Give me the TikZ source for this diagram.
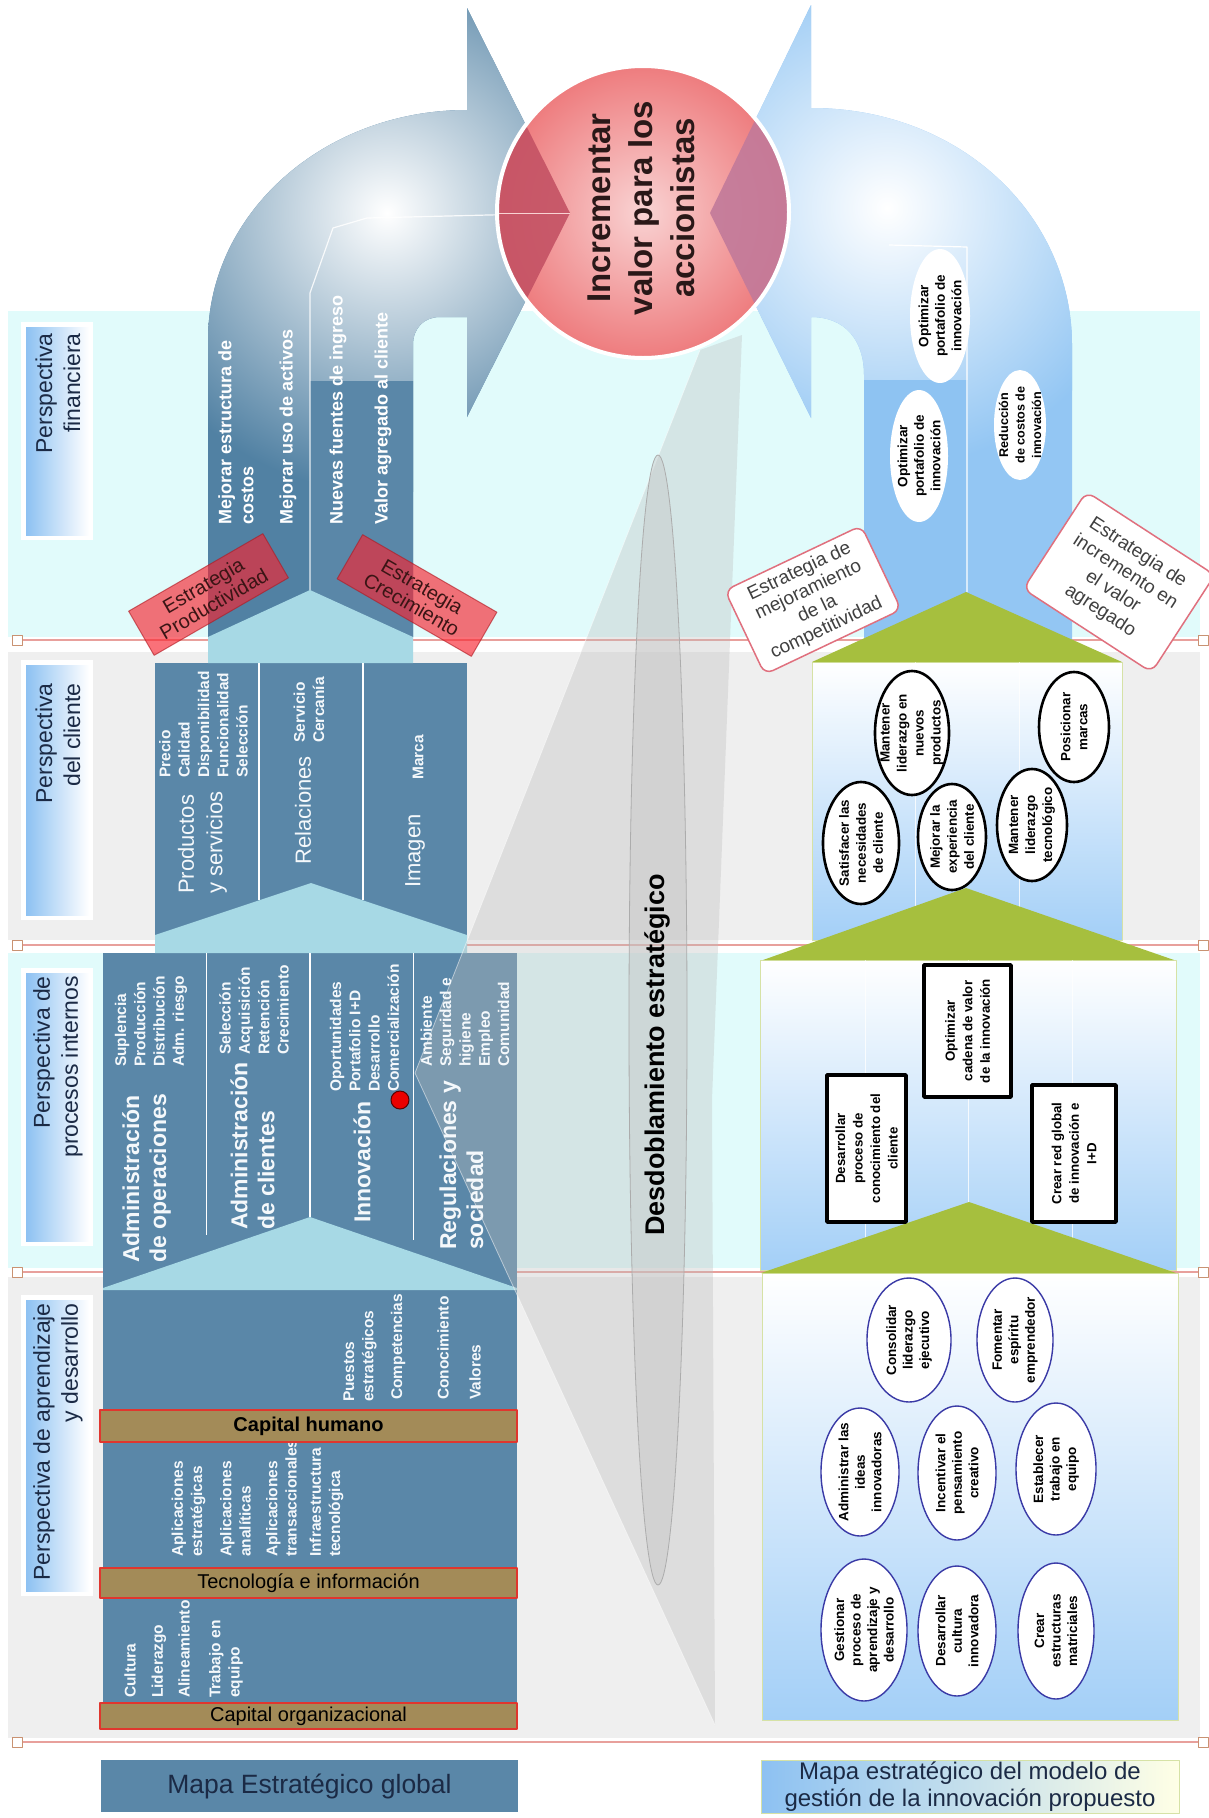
\documentclass[tikz,border=0pt]{standalone}
\usepackage{fontspec}
\setmainfont{Liberation Sans}
\usetikzlibrary{shapes.geometric}

\definecolor{bandcyan}{HTML}{E1FBFB}
\definecolor{bandgray}{HTML}{EFEFEF}
\definecolor{rule}{HTML}{E8A09C}
\definecolor{rulebox}{HTML}{C99272}
\definecolor{steel}{HTML}{5A87A8}
\definecolor{steelarrow}{HTML}{5181A3}
\definecolor{paleteal}{HTML}{A7D9E5}
\definecolor{sky}{HTML}{8EC3F2}
\definecolor{skyarrow}{HTML}{93C6F3}
\definecolor{panelblue}{HTML}{A3CFF7}
\definecolor{olive}{HTML}{A6BF3E}
\definecolor{capbrown}{HTML}{A38B58}
\definecolor{capedge}{HTML}{E0362E}
\definecolor{navy}{HTML}{1B2A45}
\definecolor{pinkin}{HTML}{F9D3D3}
\definecolor{pinkout}{HTML}{EE7C7E}
\definecolor{labelblue}{HTML}{8DC1F2}
\definecolor{stratred}{HTML}{F8222E}
\definecolor{stratedge}{HTML}{E0707E}
\definecolor{ovalblue}{HTML}{3A3AA6}
\definecolor{panelrim}{HTML}{D6E2A6}
\definecolor{funnelgray}{HTML}{BEBEBE}
\definecolor{whitetext}{HTML}{F4F8FB}
\definecolor{circtext}{HTML}{2A1818}
\definecolor{strattext}{HTML}{3A1515}
\definecolor{boxtext}{HTML}{404040}
\definecolor{lefttri}{HTML}{C45264}
\definecolor{righttri}{HTML}{C27A9A}

\newcommand{\setfs}[2]{\fontsize{#1}{#2}\selectfont}

\tikzset{
  perslabel/.style={rotate=90, anchor=east, align=right, inner sep=0pt, text=navy, font=\setfs{23}{28}},
  colitem/.style={rotate=90, anchor=west, align=left, inner sep=0pt, text=whitetext, font=\bfseries\setfs{15.5}{19.3}},
  colhead/.style={rotate=90, anchor=west, align=left, inner sep=0pt, text=whitetext, font=\bfseries\setfs{23}{27}},
  clihead/.style={rotate=90, anchor=west, align=left, inner sep=0pt, text=whitetext, font=\setfs{22}{28.5}},
  fintext/.style={rotate=90, anchor=west, align=left, inner sep=0pt, text=white, font=\bfseries\setfs{18}{22}},
  capbar/.style={draw=capedge, fill=capbrown, line width=1.5pt, inner sep=0pt, minimum width=417pt, text=black},
  stratbox/.style={rectangle, minimum width=155pt, minimum height=51pt, inner sep=0pt,
    fill=stratred, fill opacity=0.64, text opacity=1, draw=stratred!70!black, draw opacity=0.6,
    line width=1pt, align=center, font=\setfs{20}{21}, text=strattext},
  whitebox/.style={rectangle, rounded corners=9pt, fill=white, draw=stratedge, line width=1.5pt,
    inner sep=0pt, align=center, text=boxtext},
  smallblk/.style={rotate=90, align=center, inner sep=0pt, font=\bfseries\setfs{13.5}{16.5}, text=black},
  clientblk/.style={rotate=90, align=center, inner sep=0pt, font=\bfseries\setfs{13.4}{17}, text=black},
  oval/.style={fill=white, draw=black, line width=2.6pt},
  lrnoval/.style={fill=white, draw=ovalblue, line width=1.4pt},
  blackbox/.style={fill=white, draw=black, line width=3.5pt},
}

\begin{document}
\begin{tikzpicture}[x=1pt, y=-1pt, line join=round]
\useasboundingbox (0,0) rectangle (1209,1818);
\fill[white] (0,0) rectangle (1209,1818);

% ---------- perspective bands ----------
\fill[bandcyan] (8,311) rectangle (1200,637);
\fill[bandgray] (8,652) rectangle (1200,940);
\fill[bandcyan] (8,953) rectangle (1200,1268);
\fill[bandgray] (8,1277) rectangle (1200,1738);

\foreach \yy in {640,945,1272,1742}{
  \draw[rule, line width=1.6pt] (21,\yy) -- (1199,\yy);
  \draw[rulebox, fill=white, line width=1pt] (12,\yy-5) rectangle (22,\yy+5);
  \draw[rulebox, fill=white, line width=1pt] (1198,\yy-5) rectangle (1208,\yy+5);
}

% ---------- perspective labels ----------
\foreach \ya/\yb in {322/540, 660/920, 968/1246, 1295/1596}{
  \fill[white] (21,\ya) rectangle (93,\yb);
  \shade[left color=labelblue, right color=white] (26,\ya+5) rectangle (89,\yb-5);
}
\node[perslabel] (pf) at (58,333) {Perspectiva\\financiera};
\node[perslabel] (pc) at (58,683) {Perspectiva\\del cliente};
\node[perslabel] (pi) at (58,976) {Perspectiva de\\procesos internos};
\node[perslabel] (pa) at (58,1303) {Perspectiva de aprendizaje\\y desarrollo};

% ---------- global map: financial arrow ----------
\begin{scope}
  \clip (208,637) -- (208,340) .. controls (208,213) and (324,110) .. (467,110) -- (467,8)
        -- (570,213) -- (467,417) -- (467,317) -- (440,317) .. controls (424,317) and (413,328) .. (413,345)
        -- (413,637) -- cycle;
  \fill[steelarrow] (150,0) rectangle (620,700);
  \shade[inner color=white, outer color=steelarrow] (387,213) circle[radius=280pt];
  \fill[steel] (310,381) rectangle (420,640);
\end{scope}
\draw[white, opacity=0.85, line width=1.2pt] (310,590) -- (310,293) -- (333,228) -- (367,218) -- (570,213);

% ---------- global map: blocks ----------
\fill[steel] (155,663) rectangle (467,935);
\fill[steel] (103,953) rectangle (517,1288);
\fill[steel] (103,1290) rectangle (517,1729);
\fill[paleteal] (208,663) -- (208,637) -- (310,590) -- (413,637) -- (413,663) -- cycle;
\fill[paleteal] (155,953) -- (155,935) -- (311,883) -- (467,935) -- (467,953) -- cycle;
\fill[paleteal] (103,1290) -- (103,1288) -- (310,1217) -- (517,1288) -- (517,1290) -- cycle;
\draw[white, line width=1.3pt] (259,663) -- (259,900) (363,663) -- (363,900);
\draw[white, line width=1.3pt] (206.5,953) -- (206.5,1235) (310,953) -- (310,1217) (413.5,953) -- (413.5,1240);

% ---------- innovation map: financial arrow ----------
\begin{scope}
  \clip (864,640) -- (864,375) .. controls (864,340) and (845,317) .. (811,317) -- (811,418)
        -- (710,213) -- (811,5) -- (811,108) .. controls (960,108) and (1072,215) .. (1072,345)
        -- (1072,640) -- cycle;
  \fill[skyarrow] (700,0) rectangle (1100,700);
  \shade[inner color=white, outer color=skyarrow] (887,208) circle[radius=260pt];
  \fill[sky] (860,380) rectangle (968,640);
\end{scope}
\draw[white, line width=1.2pt] (967,592) -- (967,247) -- (889,245);

% ---------- innovation map: panels ----------
\shade[top color=white, bottom color=panelblue] (812,662) rectangle (1122,940);
\draw[panelrim, line width=1pt] (812,662) rectangle (1122,940);
\shade[top color=white, bottom color=panelblue] (760,960) rectangle (1176,1270);
\draw[panelrim, line width=1pt] (760,960) rectangle (1176,1270);
\shade[top color=white, bottom color=panelblue] (762,1273) rectangle (1178,1720);
\draw[panelrim, line width=1pt] (762,1273) rectangle (1178,1720);
\draw[white, opacity=0.8, line width=1pt] (915,662) -- (915,940) (1019,662) -- (1019,940);
\draw[white, opacity=0.8, line width=1pt] (865,960) -- (865,1270) (968,960) -- (968,1270) (1072,960) -- (1072,1270);
\fill[olive] (966,592) -- (812,662) -- (1122,662) -- cycle;
\fill[olive] (966,888) -- (763,960) -- (1174,960) -- cycle;
\fill[olive] (969,1202) -- (761,1273) -- (1176,1273) -- cycle;

% ---------- strategic unfolding funnel ----------
\fill[funnelgray, opacity=0.35] (700,350) -- (415,1073) -- (715,1725) -- (712,1100) -- (742,335) -- cycle;
\draw[white, opacity=0.5, line width=0.8pt] (700,350) -- (415,1073) -- (715,1725);
\shade[left color=gray!45, middle color=gray!15, right color=gray!45, opacity=0.45]
  (658,1020) ellipse[x radius=29pt, y radius=565pt];
\draw[gray!65, line width=0.8pt] (658,1020) ellipse[x radius=29pt, y radius=565pt];

% ---------- global map texts ----------
\node[fintext] (f1) at (236,525) {Mejorar estructura de\\costos};
\node[fintext] (f2) at (288,525) {Mejorar uso de activos};
\node[fintext] (f3) at (338,525) {Nuevas fuentes de ingreso};
\node[fintext] (f4) at (383,525) {Valor agregado al cliente};

\node[clihead] (c1) at (202.5,894) {Productos\\y servicios};
\node[colitem] (c1s) at (203.5,778) {Precio\\Calidad\\Disponibilidad\\Funcionalidad\\Selección};
\node[clihead] (c2) at (303,865) {Relaciones};
\node[colitem] (c2s) at (309,743) {Servicio\\Cercanía};
\node[clihead] (c3) at (415,888) {Imagen};
\node[colitem] (c3s) at (418,780) {Marca};

\node[colhead] (i1) at (146.5,1263) {Administración\\de operaciones};
\node[colitem] (i1s) at (151,1067) {Suplencia\\Producción\\Distribución\\Adm. riesgo};
\node[colhead] (i2) at (252.5,1230) {Administración\\de clientes};
\node[colitem] (i2s) at (254,1055) {Selección\\Acquisición\\Retención\\Crecimiento};
\node[colhead] (i3) at (362,1223) {Innovación};
\node[colitem] (i3s) at (364.5,1092) {Oportunidades\\Portafolio I+D\\Desarrollo\\Comercialización};
\node[colhead] (i4) at (461.5,1250) {Regulaciones y\\sociedad};
\node[colitem] (i4s) at (465,1067) {Ambiente\\Seguridad e\\higiene\\Empleo\\Comunidad};
\node[circle, fill=red!92!black, draw=red!35!black, line width=1pt, minimum size=18pt, inner sep=0pt] (dot) at (400,1100) {};

\node[colitem] (l1) at (360,1402) {Puestos\\estratégicos};
\node[colitem] (l2) at (398,1400) {Competencias};
\node[colitem] (l3) at (443,1400) {Conocimiento};
\node[colitem] (l4) at (475,1400) {Valores};
\node[colitem] (l5) at (188.5,1557) {Aplicaciones\\estratégicas};
\node[colitem] (l6) at (235.5,1557) {Aplicaciones\\analíticas};
\node[colitem] (l7) at (281.5,1557) {Aplicaciones\\transaccionales};
\node[colitem] (l8) at (326.5,1557) {Infraestructura\\tecnológica};
\node[colitem] (l9) at (130,1698) {Cultura};
\node[colitem] (l10) at (159,1698) {Liderazgo};
\node[colitem] (l11) at (184,1698) {Alineamiento};
\node[colitem] (l12) at (226,1698) {Trabajo en\\equipo};

\node[capbar, minimum height=32pt, font=\bfseries\setfs{20}{24}] (ch) at (308.5,1426) {Capital humano};
\node[capbar, minimum height=30pt, font=\setfs{20}{24}] (ti) at (308.5,1583) {Tecnología e información};
\node[capbar, minimum height=26pt, font=\setfs{20}{24}] (co) at (308.5,1716) {Capital organizacional};

% ---------- strategy tags ----------
\node[stratbox, rotate=30] (sp) at (208.5,594.5) {Estrategia\\Productividad};
\node[stratbox, rotate=-30] (sc) at (417,595.5) {Estrategia\\Crecimiento};
\node[whitebox, rotate=25.4, minimum width=151pt, minimum height=93pt, font=\setfs{19}{21}] (sm) at (813,600)
  {Estrategia de\\mejoramiento\\de la\\competitividad};
\node[whitebox, rotate=-33, minimum width=153pt, minimum height=116pt, font=\setfs{19}{23}] (si) at (1119,582)
  {Estrategia de\\incremento en\\el valor\\agregado};

% ---------- shareholder value goal ----------
\shade[inner color=pinkin, outer color=pinkout] (643,212) circle[radius=146pt];
\begin{scope}
  \clip (643,212) circle[radius=146pt];
  \fill[lefttri, opacity=0.9] (467,8) -- (570,213) -- (467,417) -- cycle;
  \fill[righttri, opacity=0.9] (811,5) -- (710,213) -- (811,418) -- cycle;
  \draw[pinkin, line width=1pt] (480,213) -- (570,213);
\end{scope}
\draw[white, line width=4pt] (643,212) circle[radius=146pt];
\node[rotate=90, align=center, inner sep=0pt, font=\bfseries\setfs{33}{42}, text=circtext] (goal) at (641,208)
  {Incrementar\\valor para los\\accionistas};

% ---------- innovation map objectives ----------
\fill[white] (940,316) ellipse[x radius=30pt, y radius=67pt];
\node[smallblk] (o1) at (940,316) {Optimizar\\portafolio de\\innovación};
\fill[white] (919,456) ellipse[x radius=29pt, y radius=66pt];
\node[smallblk] (o2) at (919,456) {Optimizar\\portafolio de\\innovación};
\fill[white] (1020,425) ellipse[x radius=26pt, y radius=55pt];
\node[smallblk, font=\bfseries\setfs{12.6}{16.5}] (o3) at (1020,425) {Reducción\\de costos de\\innovación};

\path[oval] (861,843) ellipse[x radius=38pt, y radius=61pt];
\node[clientblk] (k1) at (861,843) {Satisfacer las\\necesidades\\de cliente};
\path[oval] (912,733) ellipse[x radius=37pt, y radius=62pt];
\node[clientblk] (k2) at (912,733) {Mantener\\liderazgo en\\nuevos\\productos};
\path[oval] (952,837) ellipse[x radius=34pt, y radius=53pt];
\node[clientblk] (k3) at (952,837) {Mejorar la\\experiencia\\del cliente};
\path[oval] (1032,825) ellipse[x radius=35pt, y radius=56pt];
\node[clientblk] (k4) at (1032,825) {Mantener\\liderazgo\\tecnológico};
\path[oval] (1074,727) ellipse[x radius=35pt, y radius=55pt];
\node[clientblk] (k5) at (1074,727) {Posicionar\\marcas};

\path[blackbox] (827,1075) rectangle (906,1222);
\node[smallblk, font=\bfseries\setfs{13.3}{17.5}] (p1) at (866.5,1148.5) {Desarrollar\\proceso de\\conocimiento del\\cliente};
\path[blackbox] (924,965) rectangle (1011,1097);
\node[smallblk, font=\bfseries\setfs{13.3}{17.5}] (p2) at (967.5,1031) {Optimizar\\cadena de valor\\de la innovación};
\path[blackbox] (1032,1085) rectangle (1116,1222);
\node[smallblk, font=\bfseries\setfs{13.3}{17.5}] (p3) at (1074,1153.5) {Crear red global\\de innovación e\\I+D};

\path[lrnoval] (909,1340) ellipse[x radius=42pt, y radius=62pt];
\node[smallblk] (a1) at (909,1340) {Consolidar\\liderazgo\\ejecutivo};
\path[lrnoval] (1015,1340) ellipse[x radius=38pt, y radius=62pt];
\node[smallblk] (a2) at (1015,1340) {Fomentar\\espíritu\\emprendedor};
\path[lrnoval] (860,1472) ellipse[x radius=39pt, y radius=64pt];
\node[smallblk] (a3) at (860,1472) {Administrar las\\ideas\\innovadoras};
\path[lrnoval] (957,1473) ellipse[x radius=39pt, y radius=67pt];
\node[smallblk] (a4) at (957,1473) {Incentivar el\\pensamiento\\creativo};
\path[lrnoval] (1056,1469) ellipse[x radius=40pt, y radius=66pt];
\node[smallblk] (a5) at (1056,1469) {Establecer\\trabajo en\\equipo};
\path[lrnoval] (864,1630) ellipse[x radius=43pt, y radius=71pt];
\node[smallblk] (a6) at (864,1630) {Gestionar\\proceso de\\aprendizaje y\\desarrollo};
\path[lrnoval] (957,1631) ellipse[x radius=39pt, y radius=65pt];
\node[smallblk] (a7) at (957,1631) {Desarrollar\\cultura\\innovadora};
\path[lrnoval] (1056,1631) ellipse[x radius=38pt, y radius=68pt];
\node[smallblk] (a8) at (1056,1631) {Crear\\estructuras\\matriciales};

% ---------- unfolding caption ----------
\node[rotate=90, inner sep=0pt, font=\bfseries\setfs{27}{31}, text=black] (desd) at (657,1055) {Desdoblamiento estratégico};

% ---------- map titles ----------
\node[fill=steel, minimum width=417pt, minimum height=52pt, inner sep=0pt, font=\setfs{26.5}{30}, text=navy] (mg) at (309.5,1786)
  {Mapa Estratégico global};
\node[minimum width=418pt, minimum height=53pt, inner sep=0pt, left color=labelblue, right color=white!90!yellow,
  draw=panelrim, align=center, font=\setfs{24}{26.5}, text=navy] (mi) at (970,1786.5)
  {Mapa estratégico del modelo de\\gestión de la innovación propuesto};
\end{tikzpicture}
\end{document}
